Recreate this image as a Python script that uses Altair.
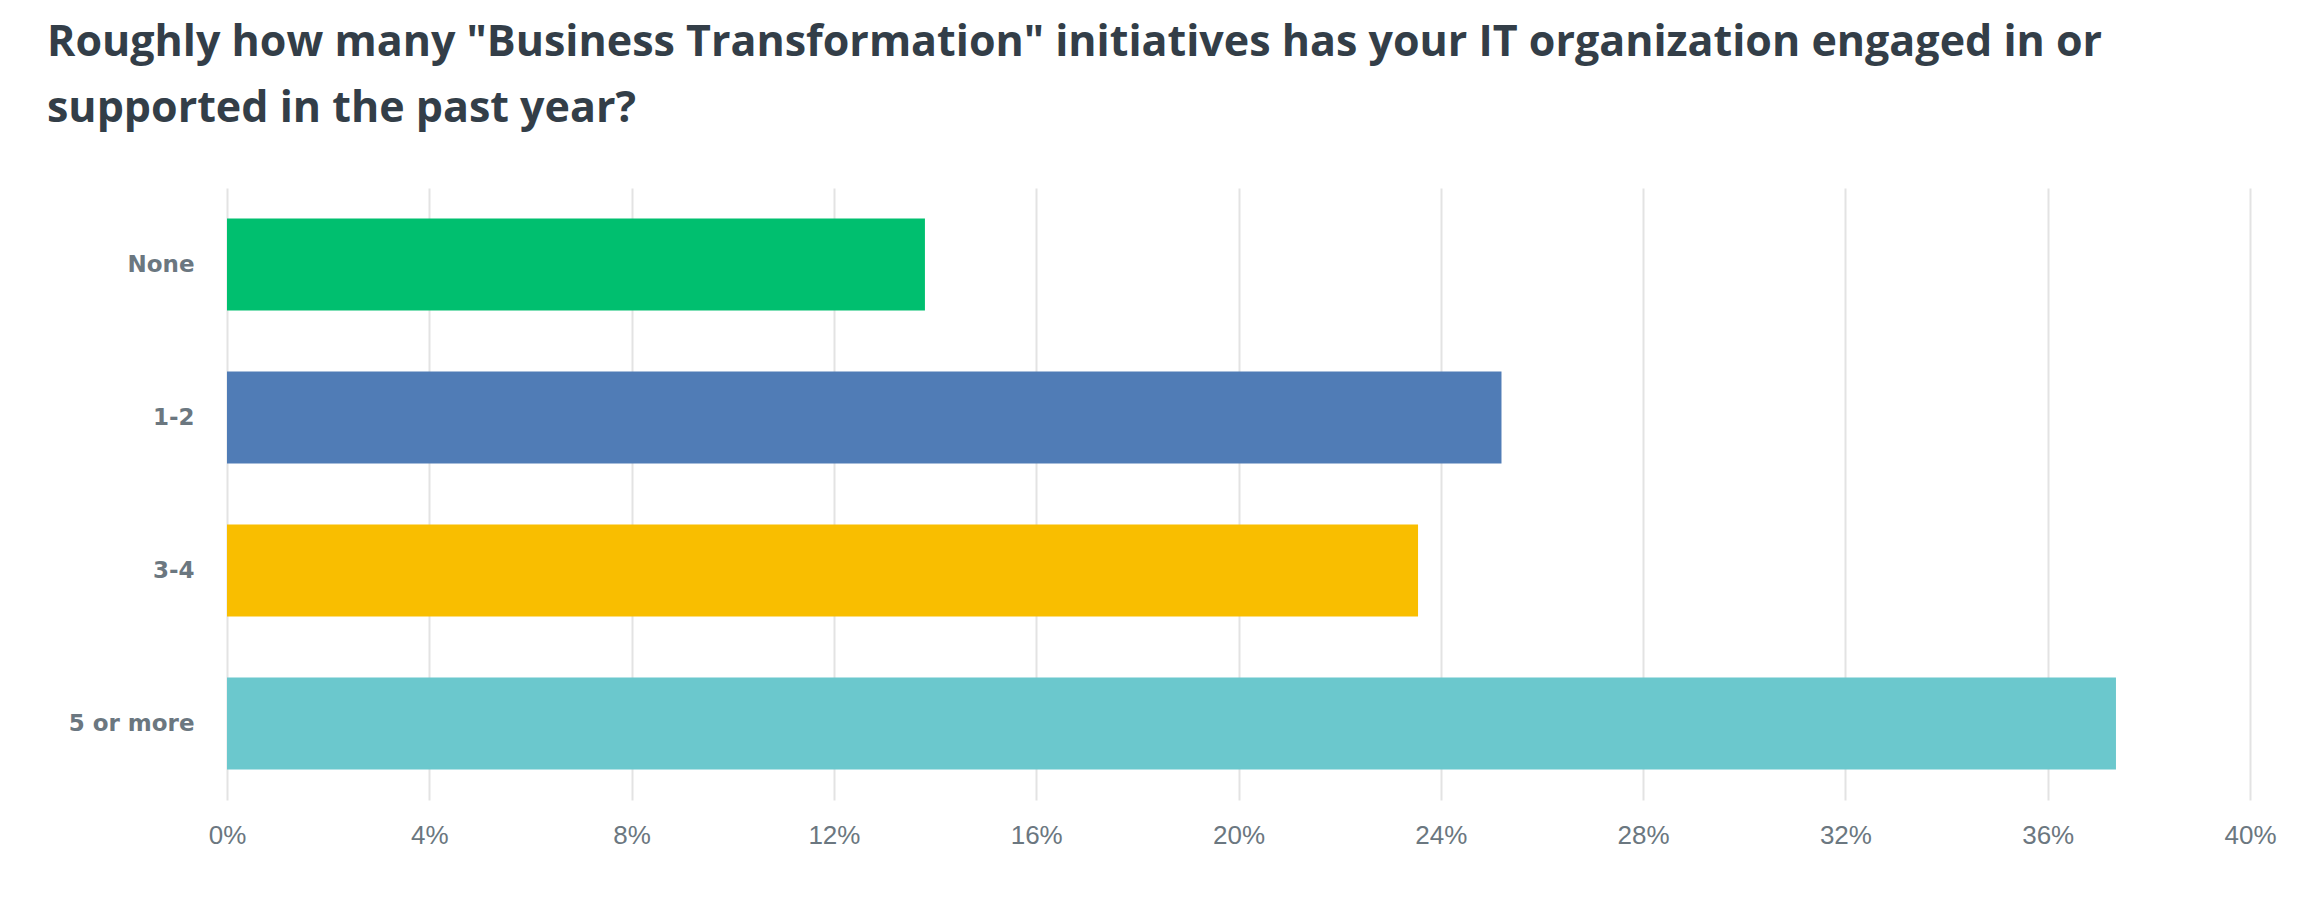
import altair as alt
import pandas as pd

categories = ["None", "1-2", "3-4", "5 or more"]
percents = [13.8, 25.2, 23.55, 37.35]
colors = ["#00bf6f", "#507cb6", "#f9be00", "#6bc8cd"]
tick_values = [0, 4, 8, 12, 16, 20, 24, 28, 32, 36, 40]
title_lines = [
    'Roughly how many "Business Transformation" initiatives has your IT organization engaged in or',
    "supported in the past year?",
]

df = pd.DataFrame({"answer": categories, "pct": percents})

chart = (
    alt.Chart(df)
    .mark_bar()
    .encode(
        x=alt.X(
            "pct:Q",
            scale=alt.Scale(domain=[0, 40], nice=False, zero=True),
            axis=alt.Axis(
                values=tick_values,
                labelExpr="datum.value + '%'",
                title=None,
                grid=True,
                gridColor="#e3e3e3",
                gridWidth=2,
                domain=False,
                ticks=False,
                tickSize=0,
                labelFlush=False,
                labelPadding=22,
                labelFont="Liberation Sans",
                labelFontSize=26,
                labelColor="#6b7780",
            ),
        ),
        y=alt.Y(
            "answer:N",
            sort=categories,
            scale=alt.Scale(paddingInner=0.4, paddingOuter=0.2),
            axis=alt.Axis(
                title=None,
                domain=False,
                ticks=False,
                tickSize=0,
                grid=False,
                labelPadding=33,
                labelFont="DejaVu Sans",
                labelFontSize=23,
                labelFontWeight="bold",
                labelColor="#6b7780",
            ),
        ),
        color=alt.Color(
            "answer:N",
            sort=categories,
            scale=alt.Scale(domain=categories, range=colors),
            legend=None,
        ),
    )
    .properties(
        width=2023,
        height=612,
        padding={"left": 39, "top": 14, "right": 5, "bottom": 5},
        title=alt.TitleParams(
            text=title_lines,
            anchor="start",
            frame="group",
            dx=-180,
            font="Open Sans",
            fontSize=43,
            fontWeight="bold",
            color="#333e48",
            lineHeight=66,
            offset=57,
        ),
    )
    .configure_view(stroke=None)
)

chart.save("out.html", embed_options={"renderer": "svg", "actions": False})
